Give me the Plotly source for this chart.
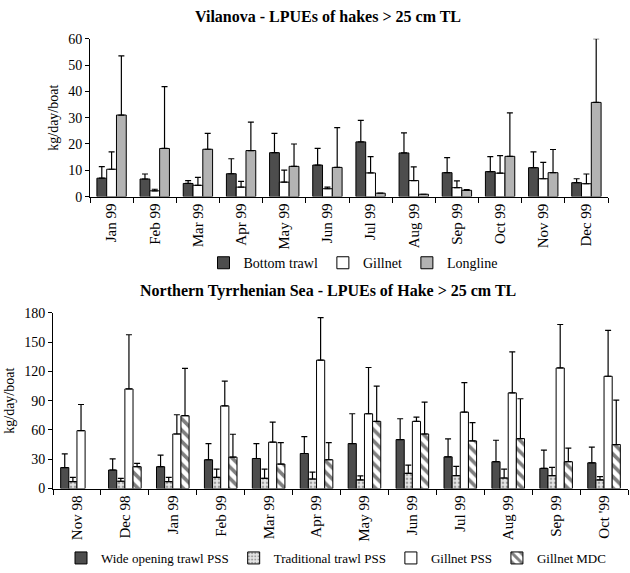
import plotly.graph_objects as go

# ---- Top chart: Vilanova ----
top_months = ["Jan 99", "Feb 99", "Mar 99", "Apr 99", "May 99", "Jun 99",
              "Jul 99", "Aug 99", "Sep 99", "Oct 99", "Nov 99", "Dec 99"]
bottom_trawl = [7.0, 6.7, 5.0, 8.7, 16.7, 12.0, 20.8, 16.6, 9.1, 9.5, 11.0, 5.3]
bottom_trawl_top = [11.4, 8.6, 6.1, 14.4, 24.0, 18.3, 29.0, 24.2, 14.8, 15.2, 17.0, 6.8]
gillnet = [10.4, 2.2, 4.3, 3.6, 5.5, 3.0, 9.0, 6.1, 3.4, 8.9, 6.8, 4.9]
gillnet_top = [17.0, 2.8, 7.3, 5.8, 10.1, 3.6, 15.2, 11.3, 6.0, 15.6, 13.0, 8.6]
longline = [31.0, 18.3, 18.0, 17.5, 11.5, 11.1, 1.3, 0.9, 2.4, 15.3, 9.1, 35.8]
longline_top = [53.5, 41.8, 24.0, 28.3, 20.0, 26.2, 1.3, 0.9, 2.7, 31.8, 17.9, 60.0]

# ---- Bottom chart: Northern Tyrrhenian Sea ----
bot_months = ["Nov 98", "Dec 98", "Jan 99", "Feb 99", "Mar 99", "Apr 99",
              "May 99", "Jun 99", "Jul 99", "Aug 99", "Sep 99", "Oct '99"]
wide_trawl = [21.5, 19.0, 22.4, 29.5, 30.8, 35.9, 46.1, 50.2, 32.5, 27.5, 20.7, 26.4]
wide_trawl_top = [35.6, 30.5, 34.2, 46.1, 46.1, 53.2, 76.6, 71.5, 50.8, 49.5, 39.3, 42.4]
trad_trawl = [7.1, 7.5, 7.1, 11.5, 10.5, 9.8, 8.8, 15.6, 13.2, 10.8, 13.2, 8.8]
trad_trawl_top = [11.5, 10.5, 11.5, 20.0, 20.0, 16.9, 12.9, 24.1, 22.7, 20.0, 21.7, 12.2]
gillnet_pss = [59.3, 102.0, 55.9, 84.7, 47.5, 131.5, 76.6, 68.8, 78.3, 98.0, 123.5, 115.0]
gillnet_pss_top = [86.1, 157.5, 75.6, 110.0, 68.1, 175.0, 124.0, 73.2, 108.5, 140.0, 168.0, 162.0]
gillnet_mdc = [None, 22.4, 74.6, 32.2, 25.1, 29.5, 68.8, 55.9, 48.8, 51.2, 27.5, 45.1]
gillnet_mdc_top = [None, 25.8, 123.0, 55.6, 47.1, 47.1, 105.0, 88.5, 67.5, 92.0, 41.4, 90.5]

FONT = "Liberation Serif"
W, H = 630, 573


def up_err(vals, tops):
    return [None if v is None else t - v for v, t in zip(vals, tops)]


def err(vals, tops):
    return dict(type="data", symmetric=False, array=up_err(vals, tops),
                arrayminus=[0] * len(vals), color="black", thickness=1.2, width=3)


line = dict(color="black", width=1)
fig = go.Figure()

# top traces
fig.add_trace(go.Bar(x=top_months, y=bottom_trawl, name="Bottom trawl",
                     marker=dict(color="#4d4d4d", line=line),
                     error_y=err(bottom_trawl, bottom_trawl_top),
                     xaxis="x", yaxis="y", legend="legend"))
fig.add_trace(go.Bar(x=top_months, y=gillnet, name="Gillnet",
                     marker=dict(color="white", line=line),
                     error_y=err(gillnet, gillnet_top),
                     xaxis="x", yaxis="y", legend="legend"))
fig.add_trace(go.Bar(x=top_months, y=longline, name="Longline",
                     marker=dict(color="#b3b3b3", line=line),
                     error_y=err(longline, longline_top),
                     xaxis="x", yaxis="y", legend="legend"))

# bottom traces
fig.add_trace(go.Bar(x=bot_months, y=wide_trawl, name="Wide opening trawl PSS",
                     marker=dict(color="#4d4d4d", line=line),
                     error_y=err(wide_trawl, wide_trawl_top),
                     xaxis="x2", yaxis="y2", legend="legend2"))
fig.add_trace(go.Bar(x=bot_months, y=trad_trawl, name="Traditional trawl PSS",
                     marker=dict(color="#e6e6e6", line=line,
                                 pattern=dict(shape=".", fgcolor="#555555", bgcolor="#e6e6e6",
                                              size=4, solidity=0.35)),
                     error_y=err(trad_trawl, trad_trawl_top),
                     xaxis="x2", yaxis="y2", legend="legend2"))
fig.add_trace(go.Bar(x=bot_months, y=gillnet_pss, name="Gillnet PSS",
                     marker=dict(color="white", line=line),
                     error_y=err(gillnet_pss, gillnet_pss_top),
                     xaxis="x2", yaxis="y2", legend="legend2"))
fig.add_trace(go.Bar(x=bot_months, y=gillnet_mdc, name="Gillnet MDC",
                     marker=dict(color="white", line=line,
                                 pattern=dict(shape="\\", fgcolor="black", bgcolor="white",
                                              size=8, solidity=0.45)),
                     error_y=err(gillnet_mdc, gillnet_mdc_top),
                     xaxis="x2", yaxis="y2", legend="legend2"))


def px_x(p):
    return p / W


def px_y(p):
    return 1 - p / H


ytickfont = dict(family=FONT, size=14, color="black")
xtickfont = dict(family=FONT, size=15, color="black")
common_x = dict(type="category", showline=True, linecolor="black", linewidth=1,
                ticks="outside", ticklen=5, tickcolor="black", tickson="boundaries",
                tickangle=-90, tickfont=xtickfont, showgrid=False, zeroline=False,
                automargin=False)
common_y = dict(showline=True, linecolor="black", linewidth=1, ticks="outside",
                ticklen=4, tickcolor="black", tickfont=ytickfont, showgrid=False,
                zeroline=False, automargin=False,
                title=dict(text="kg/day/boat", font=dict(family=FONT, size=14, color="black"),
                           standoff=6))

fig.update_layout(
    width=W, height=H,
    margin=dict(l=0, r=0, t=0, b=0),
    paper_bgcolor="white", plot_bgcolor="white",
    barmode="group", bargap=0.32, bargroupgap=0,
    font=dict(family=FONT, color="black"),
    xaxis=dict(common_x, domain=[px_x(90), px_x(608)], anchor="y"),
    yaxis=dict(common_y, domain=[px_y(198), px_y(39)], range=[0, 60], dtick=10, anchor="x"),
    xaxis2=dict(common_x, domain=[px_x(53), px_x(628)], anchor="y2"),
    yaxis2=dict(common_y, domain=[px_y(492), px_y(315)], range=[0, 180], dtick=30, anchor="x2"),
    legend=dict(orientation="h", x=px_x(353), y=px_y(265), xanchor="center", yanchor="middle",
                font=dict(family=FONT, size=14, color="black"), bgcolor="rgba(0,0,0,0)",
                itemwidth=30, tracegroupgap=0),
    legend2=dict(orientation="h", x=px_x(336), y=px_y(562), xanchor="center", yanchor="middle",
                 font=dict(family=FONT, size=13, color="black"), bgcolor="rgba(0,0,0,0)",
                 itemwidth=30, tracegroupgap=0),
    annotations=[
        dict(text="<b>Vilanova - LPUEs of hakes > 25 cm TL</b>", xref="paper", yref="paper",
             x=px_x(328), y=px_y(17), showarrow=False, xanchor="center", yanchor="middle",
             font=dict(family=FONT, size=16, color="black")),
        dict(text="<b>Northern Tyrrhenian Sea - LPUEs of Hake > 25 cm TL</b>", xref="paper",
             yref="paper", x=px_x(328), y=px_y(293), showarrow=False, xanchor="center",
             yanchor="middle", font=dict(family=FONT, size=16, color="black")),
    ],
)

fig.write_html("out.html", config={"displayModeBar": False},
               post_script="document.body.style.margin='0';document.body.style.padding='0';")
